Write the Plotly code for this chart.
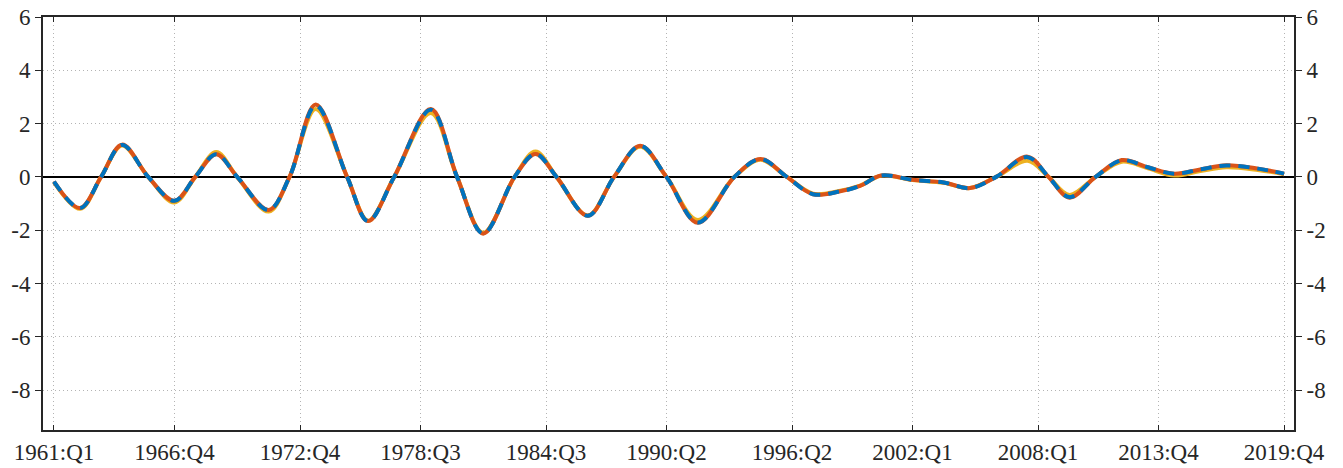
import plotly.graph_objects as go

# quarter index (0 = 1961:Q1) of the key points
q_main = [0, 5, 9, 13, 18, 23, 27, 31, 35, 41, 45, 50, 56, 60, 65, 72, 77, 82, 88, 92,
          96, 102, 107, 112, 117, 123, 130, 135, 140, 145, 150, 154, 158, 164, 170, 175,
          180, 186, 190, 194, 199, 204, 209, 214, 219, 224, 230, 235]

blue = [-0.18, -1.17, 0.0, 1.2, 0.0, -0.9, 0.0, 0.85, 0.0, -1.24, 0.0, 2.68, 0.0, -1.66, 0.0,
        2.52, 0.0, -2.12, 0.0, 0.86, 0.0, -1.46, 0.0, 1.16, 0.0, -1.71, 0.0, 0.66, 0.0, -0.65,
        -0.55, -0.34, 0.05, -0.11, -0.21, -0.42, 0.0, 0.74, 0.0, -0.76, 0.0, 0.62, 0.36, 0.12,
        0.28, 0.43, 0.31, 0.12]

red = [-0.18, -1.17, 0.0, 1.21, 0.0, -0.9, 0.0, 0.85, 0.0, -1.24, 0.0, 2.72, 0.0, -1.66, 0.0,
       2.55, 0.0, -2.13, 0.0, 0.86, 0.0, -1.46, 0.0, 1.17, 0.0, -1.72, 0.0, 0.67, 0.0, -0.65,
       -0.55, -0.34, 0.05, -0.11, -0.21, -0.42, 0.0, 0.76, 0.0, -0.78, 0.0, 0.63, 0.36, 0.12,
       0.28, 0.44, 0.31, 0.12]

yellow = [-0.2, -1.2, 0.0, 1.18, 0.0, -0.96, 0.0, 0.93, 0.0, -1.3, 0.0, 2.55, 0.0, -1.65, 0.0,
          2.4, 0.0, -2.1, 0.0, 0.95, 0.0, -1.45, 0.0, 1.13, 0.0, -1.62, 0.0, 0.64, 0.0, -0.63,
          -0.53, -0.33, 0.04, -0.12, -0.22, -0.42, 0.0, 0.6, 0.0, -0.68, 0.0, 0.57, 0.32, 0.05,
          0.22, 0.36, 0.26, 0.1]

tick_q = [0, 23, 47, 70, 94, 117, 141, 164, 188, 211, 235]
tick_labels = ['1961:Q1', '1966:Q4', '1972:Q4', '1978:Q3', '1984:Q3', '1990:Q2',
               '1996:Q2', '2002:Q1', '2008:Q1', '2013:Q4', '2019:Q4']
y_ticks = [-8, -6, -4, -2, 0, 2, 4, 6]
y_labels = ['-8', '-6', '-4', '-2', '0', '2', '4', '6']

fig = go.Figure()
fig.add_trace(go.Scatter(x=q_main, y=yellow, mode='lines', line=dict(color='#EDB120', width=4, shape='spline', smoothing=1)))
fig.add_trace(go.Scatter(x=q_main, y=red, mode='lines', line=dict(color='#D95319', width=4, shape='spline', smoothing=1)))
fig.add_trace(go.Scatter(x=q_main, y=blue, mode='lines', line=dict(color='#0072BD', width=4, shape='spline', smoothing=1, dash='11px,8px')))
# invisible trace so the right-hand axis is drawn
fig.add_trace(go.Scatter(x=[0], y=[0], yaxis='y2', mode='markers', marker=dict(opacity=0), hoverinfo='skip'))

axis_font = dict(family='Liberation Serif, Times New Roman, serif', size=23, color='#262626')

fig.update_layout(
    width=1343, height=468,
    margin=dict(l=43, r=49, t=17, b=38),
    plot_bgcolor='white', paper_bgcolor='white',
    showlegend=False,
    font=axis_font,
    xaxis=dict(range=[-2.1, 236.9], tickvals=tick_q, ticktext=tick_labels, tickfont=axis_font,
               showgrid=True, gridcolor='#b4b4b4', griddash='1px,3px', gridwidth=1,
               showline=True, linecolor='#262626', linewidth=2, mirror='ticks',
               ticks='inside', ticklen=5, tickcolor='#262626', zeroline=False, automargin=False),
    yaxis=dict(range=[-9.5, 6], tickvals=y_ticks, ticktext=y_labels, tickfont=axis_font,
               showgrid=True, gridcolor='#b4b4b4', griddash='1px,3px', gridwidth=1,
               showline=True, linecolor='#262626', linewidth=2,
               ticks='outside', ticklen=6, tickcolor='#262626',
               zeroline=True, zerolinecolor='black', zerolinewidth=2, automargin=False),
    yaxis2=dict(range=[-9.5, 6], tickvals=y_ticks, ticktext=y_labels, overlaying='y', side='right',
                tickfont=axis_font, showgrid=False, zeroline=False,
                showline=True, linecolor='#262626', linewidth=2,
                ticks='outside', ticklen=6, tickcolor='#262626', automargin=False),
)

fig.write_html("out.html", config={'displayModeBar': False},
               post_script="document.body.style.margin='0';")
